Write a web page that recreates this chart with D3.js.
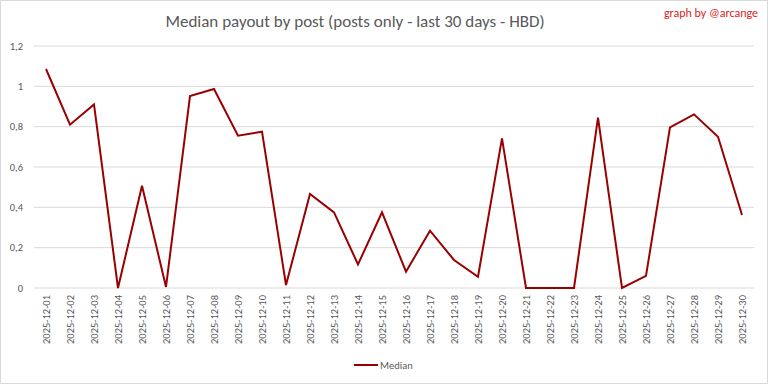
<!DOCTYPE html>
<html><head><meta charset="utf-8">
<script src="https://cdn.jsdelivr.net/npm/d3@7"></script>
<style>body{margin:0;background:#fff}svg{display:block}</style>
</head><body>
<script>
const dates = ["2025-12-01","2025-12-02","2025-12-03","2025-12-04","2025-12-05","2025-12-06","2025-12-07","2025-12-08","2025-12-09","2025-12-10","2025-12-11","2025-12-12","2025-12-13","2025-12-14","2025-12-15","2025-12-16","2025-12-17","2025-12-18","2025-12-19","2025-12-20","2025-12-21","2025-12-22","2025-12-23","2025-12-24","2025-12-25","2025-12-26","2025-12-27","2025-12-28","2025-12-29","2025-12-30"];
const median = [1.086,0.81,0.91,0.0,0.507,0.005,0.952,0.987,0.755,0.775,0.015,0.466,0.375,0.117,0.375,0.081,0.284,0.139,0.056,0.742,0.0,0.0,0.0,0.845,0.0,0.06,0.797,0.861,0.75,0.362];
const yTicks = [0,0.2,0.4,0.6,0.8,1,1.2];
const yTickLabels = ["0","0,2","0,4","0,6","0,8","1","1,2"];
const seriesName = "Median";

const W=768,H=384;
const svg=d3.select("body").append("svg").attr("width",W).attr("height",H);
const font="Carlito, Calibri, 'Open Sans', 'Liberation Sans', sans-serif";
svg.append("rect").attr("x",0.5).attr("y",0.5).attr("width",W-1).attr("height",H-1).attr("fill","#fff").attr("stroke","#d9d9d9");

const x=d3.scaleBand().domain(dates).range([34,754]);
const y=d3.scaleLinear().domain([0,1.2]).range([288,46]);

svg.append("g").selectAll("line").data(yTicks).join("line")
 .attr("x1",34).attr("x2",754).attr("y1",d=>y(d)).attr("y2",d=>y(d))
 .attr("stroke","#d9d9d9").attr("stroke-width",1);

svg.append("g").selectAll("text").data(yTicks).join("text")
 .attr("x",23).attr("y",d=>y(d)).attr("dy","0.35em").attr("text-anchor","end")
 .attr("font-family",font).attr("font-size",10.5).attr("fill","#595959")
 .text((d,i)=>yTickLabels[i]);

svg.append("g").selectAll("text").data(dates).join("text")
 .attr("transform",d=>`translate(${x(d)+x.bandwidth()/2+3.5},295) rotate(-90)`)
 .attr("text-anchor","end")
 .attr("font-family",font).attr("font-size",10.5).attr("fill","#595959")
 .text(d=>d);

const line=d3.line().x((d,i)=>x(dates[i])+x.bandwidth()/2).y(d=>y(d));
svg.append("path").datum(median).attr("d",line).attr("fill","none")
 .attr("stroke","#990000").attr("stroke-width",2).attr("stroke-linejoin","miter");

svg.append("text").attr("x",355).attr("y",27).attr("text-anchor","middle")
 .attr("font-family",font).attr("font-size",17).attr("fill","#595959")
 .text("Median payout by post (posts only - last 30 days - HBD)");
svg.append("text").attr("x",758).attr("y",17).attr("text-anchor","end")
 .attr("font-family",font).attr("font-size",12).attr("fill","#d81e1e")
 .text("graph by @arcange");

svg.append("line").attr("x1",354).attr("x2",378).attr("y1",365).attr("y2",365)
 .attr("stroke","#990000").attr("stroke-width",2);
svg.append("text").attr("x",380).attr("y",365).attr("dy","0.35em")
 .attr("font-family",font).attr("font-size",10.5).attr("fill","#595959").text(seriesName);
</script>
</body></html>
